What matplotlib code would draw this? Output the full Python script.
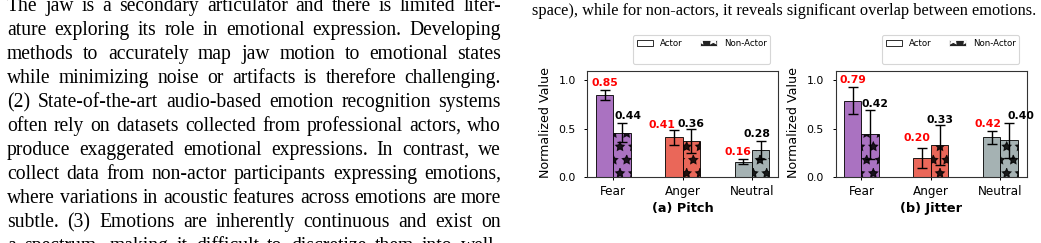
import matplotlib
matplotlib.use('Agg')
import matplotlib.pyplot as plt
from matplotlib.patches import Patch
import numpy as np

W, H, DPI = 1041, 243, 80
PT = 72.0 / DPI  # points per pixel

# ---------------- data ----------------
categories = ['Fear', 'Anger', 'Neutral']

pitch_actor = [0.85, 0.41, 0.16]
pitch_actor_err = [0.05, 0.075, 0.03]
pitch_nonactor = [0.46, 0.37, 0.28]
pitch_nonactor_err = [0.095, 0.125, 0.09]
pitch_actor_labels = ['0.85', '0.41', '0.16']
pitch_nonactor_labels = ['0.44', '0.36', '0.28']

jitter_actor = [0.79, 0.20, 0.41]
jitter_actor_err = [0.14, 0.105, 0.07]
jitter_nonactor = [0.44, 0.33, 0.38]
jitter_nonactor_err = [0.25, 0.21, 0.18]
jitter_actor_labels = ['0.79', '0.20', '0.42']
jitter_nonactor_labels = ['0.42', '0.33', '0.40']

legend_labels = ['Actor', 'Non-Actor']
panel_titles = ['(a) Pitch', '(b) Jitter']
y_label = 'Normalized Value'

left_lines = [
    "The jaw is a secondary articulator and there is limited liter-",
    "ature exploring its role in emotional expression. Developing",
    "methods to accurately map jaw motion to emotional states",
    "while minimizing noise or artifacts is therefore challenging.",
    "(2) State-of-the-art audio-based emotion recognition systems",
    "often rely on datasets collected from professional actors, who",
    "produce exaggerated emotional expressions. In contrast, we",
    "collect data from non-actor participants expressing emotions,",
    "where variations in acoustic features across emotions are more",
    "subtle. (3) Emotions are inherently continuous and exist on",
    "a spectrum, making it difficult to discretize them into well-",
]
right_line = "space), while for non-actors, it reveals significant overlap between emotions."

# ---------------- styles ----------------
colors = ['#9b59b6', '#e74c3c', '#95a5a6']
pitch_actor_off = [(0, 4), (-12, 2), (-5, 3.7)]
pitch_non_off = [(6, 4), (0, 2.6), (-4, 4.7)]
jitter_actor_off = [(0, 4), (-5, 7), (-4, 3.6)]
jitter_non_off = [(5, 3.6), (0, 2), (12, 4)]

fig = plt.figure(figsize=(W / DPI, H / DPI), dpi=DPI)
renderer = fig.canvas.get_renderer()


def fx(px):
    return px / W


def fy(py):
    return 1 - py / H


SERIF = 'Liberation Serif'


def text_width(s, fs):
    t = fig.text(0, 0, s, fontsize=fs, family=SERIF)
    w = t.get_window_extent(renderer).width
    t.remove()
    return w


# body font size from a lightly stretched line
body_fs = 10 * 490.0 / text_width(left_lines[8], 10)
right_fs = 10 * 503.0 / text_width(right_line, 10)


def justified(line, x0, x1, ybase, fs):
    words = line.split()
    objs = [fig.text(0, 0, w, fontsize=fs, family=SERIF, va='baseline') for w in words]
    widths = [o.get_window_extent(renderer).width for o in objs]
    gap = (x1 - x0 - sum(widths)) / max(len(words) - 1, 1)
    x = x0
    for o, w in zip(objs, widths):
        o.set_position((fx(x), fy(ybase)))
        x += w + gap


for i, line in enumerate(left_lines):
    justified(line, 7, 501, 11 + 24 * i, body_fs)

fig.text(fx(531.5), fy(15), right_line, fontsize=right_fs, family=SERIF, va='baseline')

# ---------------- charts ----------------
x = np.arange(len(categories))
width = 0.25


def panel(left_px, actor, actor_err, non, non_err, alabels, nlabels, aoff, noff, title, legend_right):
    ax = fig.add_axes([fx(left_px), fy(177), 191 / W, 106.3 / H])
    ekw = dict(elinewidth=1.4 * PT, capthick=1.4 * PT, ecolor='black')
    ax.bar(x - width / 2, actor, width, yerr=actor_err, color=colors, alpha=0.85,
           edgecolor='black', linewidth=1.0 * PT, capsize=5.3 * PT, error_kw=ekw)
    ax.bar(x + width / 2, non, width, yerr=non_err, color=colors, alpha=0.85,
           edgecolor='black', linewidth=1.0 * PT, capsize=5.3 * PT, error_kw=ekw, hatch='*')
    for i in range(len(categories)):
        ax.annotate(alabels[i], xy=(x[i] - width / 2, actor[i] + actor_err[i]),
                    xytext=(aoff[i][0] * PT, aoff[i][1] * PT), textcoords='offset points',
                    ha='center', va='baseline', fontsize=10.9 * PT, fontweight='bold', color='#ff0000')
        ax.annotate(nlabels[i], xy=(x[i] + width / 2, non[i] + non_err[i]),
                    xytext=(noff[i][0] * PT, noff[i][1] * PT), textcoords='offset points',
                    ha='center', va='baseline', fontsize=10.9 * PT, fontweight='bold', color='black')
    ax.set_xlim(-0.37, 2.38)
    ax.set_ylim(0, 1.1)
    ax.set_xticks(x, categories)
    ax.set_yticks([0, 0.5, 1.0])
    ax.tick_params(axis='x', labelsize=12 * PT, length=3.3 * PT, pad=4.5 * PT, width=1 * PT)
    ax.tick_params(axis='y', labelsize=11 * PT, length=3.3 * PT, pad=8.5 * PT, width=1 * PT)
    for s in ax.spines.values():
        s.set_color('#333333')
        s.set_linewidth(1.1 * PT)
    fig.text(fx(left_px - 42), fy(123), y_label, rotation=90, ha='center', va='center',
             fontsize=12.6 * PT)
    fig.text(fx(left_px + 95.5), fy(208.5), title, ha='center', va='center',
             fontsize=12.9 * PT, fontweight='bold')
    handles = [Patch(facecolor='white', edgecolor='black', linewidth=0.8 * PT, label=legend_labels[0]),
               Patch(facecolor='none', edgecolor='none', label=' '),
               Patch(facecolor='#222222', edgecolor='white', linewidth=0.8 * PT, hatch='*', label=legend_labels[1]),
               Patch(facecolor='none', edgecolor='none', label=' ')]
    ax.legend(handles=handles, ncol=2, loc='lower right',
              bbox_to_anchor=(fx(legend_right), fy(64)), bbox_transform=fig.transFigure,
              fontsize=8.6 * PT, handlelength=1.95, handleheight=0.7, handletextpad=0.8,
              columnspacing=2.0, borderpad=0.4, labelspacing=0.45, borderaxespad=0,
              frameon=True, fancybox=True, edgecolor='0.8')
    return ax


panel(587.5, pitch_actor, pitch_actor_err, pitch_nonactor, pitch_nonactor_err,
      pitch_actor_labels, pitch_nonactor_labels, pitch_actor_off, pitch_non_off, panel_titles[0], 770)
panel(835.7, jitter_actor, jitter_actor_err, jitter_nonactor, jitter_nonactor_err,
      jitter_actor_labels, jitter_nonactor_labels, jitter_actor_off, jitter_non_off, panel_titles[1], 1019)

fig.savefig('out.png', dpi=DPI)
